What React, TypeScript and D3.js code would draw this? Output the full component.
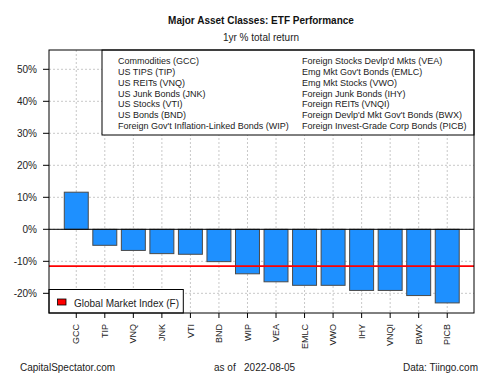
import React, { useEffect, useRef } from "react";
import * as d3 from "d3";

const tickers = ["GCC","TIP","VNQ","JNK","VTI","BND","WIP","VEA","EMLC","VWO","IHY","VNQI","BWX","PICB"];
const returns = [11.6,-5.0,-6.6,-7.6,-7.8,-10.1,-13.9,-16.4,-17.5,-17.5,-19.1,-19.1,-20.7,-23.0];
const globalIndex = -11.5;
const yTicks = [-20,-10,0,10,20,30,40,50];
const legendLeft = ["Commodities (GCC)","US TIPS (TIP)","US REITs (VNQ)","US Junk Bonds (JNK)","US Stocks (VTI)","US Bonds (BND)","Foreign Gov't Inflation-Linked Bonds (WIP)"];
const legendRight = ["Foreign Stocks Devlp'd Mkts (VEA)","Emg Mkt Gov't Bonds (EMLC)","Emg Mkt Stocks (VWO)","Foreign Junk Bonds (IHY)","Foreign REITs (VNQI)","Foreign Devlp'd Mkt Gov't Bonds (BWX)","Foreign Invest-Grade Corp Bonds (PICB)"];

export default function App() {
  const ref = useRef<SVGSVGElement>(null);
  useEffect(() => {
    const svg = d3.select(ref.current);
    svg.selectAll("*").remove();
    const font = "Liberation Sans, Arial, sans-serif";
    const L = 49, R = 474, T = 50, B = 313;
    const y = d3.scaleLinear().domain([-26.15, 56.03]).range([B, T]);
    const x = d3.scaleBand().domain(tickers).range([62.0, 461.5]).paddingInner(0.16).paddingOuter(0.08);
    svg.append("rect").attr("width", 500).attr("height", 375).attr("fill", "white");

    // grid
    const g = svg.append("g");
    g.selectAll("line.h").data(yTicks).enter().append("line")
      .attr("x1", L).attr("x2", R).attr("y1", d => y(d)).attr("y2", d => y(d))
      .attr("stroke", "#c8c8c8").attr("stroke-dasharray", "2,2").attr("stroke-width", 1);
    g.selectAll("line.v").data(tickers).enter().append("line")
      .attr("y1", T).attr("y2", B).attr("x1", d => x(d)! + x.bandwidth() / 2).attr("x2", d => x(d)! + x.bandwidth() / 2)
      .attr("stroke", "#c8c8c8").attr("stroke-dasharray", "2,2").attr("stroke-width", 1);

    // bars
    svg.selectAll("rect.bar").data(tickers).enter().append("rect")
      .attr("x", d => x(d)!).attr("width", x.bandwidth())
      .attr("y", (d, i) => y(Math.max(0, returns[i])))
      .attr("height", (d, i) => Math.abs(y(returns[i]) - y(0)))
      .attr("fill", "#1E90FF").attr("stroke", "#4a4a4a").attr("stroke-width", 1);

    // zero line
    svg.append("line").attr("x1", L).attr("x2", R).attr("y1", y(0)).attr("y2", y(0)).attr("stroke", "black").attr("stroke-width", 1);
    // global index line
    svg.append("line").attr("x1", L).attr("x2", R).attr("y1", y(globalIndex)).attr("y2", y(globalIndex)).attr("stroke", "#ff0000").attr("stroke-width", 1.6);

    // top legend
    svg.append("rect").attr("x", 102).attr("y", T).attr("width", R - 102).attr("height", 135 - T)
      .attr("fill", "white").attr("stroke", "black").attr("stroke-width", 1);
    legendLeft.forEach((t, i) => {
      svg.append("text").attr("x", 118).attr("y", 60.7 + i * 10.9).attr("dy", "0.35em")
        .attr("font-family", font).attr("font-size", 9).attr("fill", "#222").text(t);
    });
    legendRight.forEach((t, i) => {
      svg.append("text").attr("x", 302).attr("y", 60.7 + i * 10.9).attr("dy", "0.35em")
        .attr("font-family", font).attr("font-size", 9).attr("fill", "#222").text(t);
    });

    // bottom legend
    svg.append("rect").attr("x", L).attr("y", 289.5).attr("width", 183.3 - L).attr("height", B - 289.5)
      .attr("fill", "white").attr("stroke", "black").attr("stroke-width", 1);
    svg.append("rect").attr("x", 57.5).attr("y", 299).attr("width", 8.5).attr("height", 6)
      .attr("fill", "#ff0000").attr("stroke", "black").attr("stroke-width", 0.8);
    svg.append("text").attr("x", 74).attr("y", 303).attr("dy", "0.35em")
      .attr("font-family", font).attr("font-size", 10).attr("fill", "#222").text("Global Market Index (F)");

    // plot box
    svg.append("rect").attr("x", L).attr("y", T).attr("width", R - L).attr("height", B - T)
      .attr("fill", "none").attr("stroke", "black").attr("stroke-width", 1);

    // y axis
    yTicks.forEach(v => {
      svg.append("line").attr("x1", 43).attr("x2", L).attr("y1", y(v)).attr("y2", y(v)).attr("stroke", "black");
      svg.append("text").attr("x", 37).attr("y", y(v)).attr("dy", "0.35em").attr("text-anchor", "end")
        .attr("font-family", font).attr("font-size", 10).attr("fill", "#222").text(`${v}%`);
    });
    // x axis
    tickers.forEach(t => {
      const cx = x(t)! + x.bandwidth() / 2;
      svg.append("line").attr("x1", cx).attr("x2", cx).attr("y1", B).attr("y2", B + 5).attr("stroke", "black");
      svg.append("text").attr("transform", `translate(${cx},${B + 11}) rotate(-90)`).attr("dy", "0.35em")
        .attr("text-anchor", "end").attr("font-family", font).attr("font-size", 9).attr("fill", "#222").text(t);
    });

    // titles
    svg.append("text").attr("x", 261).attr("y", 20).attr("dy", "0.35em").attr("text-anchor", "middle")
      .attr("font-family", font).attr("font-size", 10).attr("font-weight", "bold").attr("fill", "#111")
      .text("Major Asset Classes: ETF Performance");
    svg.append("text").attr("x", 261).attr("y", 37).attr("dy", "0.35em").attr("text-anchor", "middle")
      .attr("font-family", font).attr("font-size", 10).attr("fill", "#222").text("1yr % total return");
    // footer
    svg.append("text").attr("x", 20).attr("y", 367).attr("dy", "0.35em")
      .attr("font-family", font).attr("font-size", 10).attr("fill", "#222").text("CapitalSpectator.com");
    svg.append("text").attr("x", 214).attr("y", 367).attr("dy", "0.35em").attr("xml:space", "preserve")
      .attr("font-family", font).attr("font-size", 10).attr("fill", "#222").text("as of   2022-08-05");
    svg.append("text").attr("x", 478).attr("y", 367).attr("dy", "0.35em").attr("text-anchor", "end")
      .attr("font-family", font).attr("font-size", 10).attr("fill", "#222").text("Data: Tiingo.com");
  }, []);
  return (
    <div style={{ position: "absolute", left: 0, top: 0 }}>
      <svg ref={ref} width={500} height={375} style={{ display: "block" }} />
    </div>
  );
}
